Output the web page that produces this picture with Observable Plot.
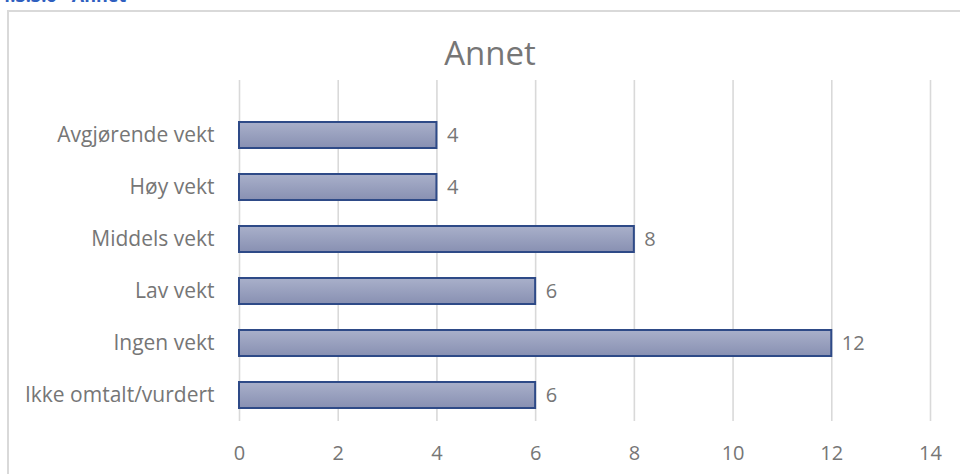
<!DOCTYPE html>
<html><head><meta charset="utf-8">
<script src="https://cdn.jsdelivr.net/npm/d3@7"></script>
<script src="https://cdn.jsdelivr.net/npm/@observablehq/plot@0.6"></script>
<style>
html,body{margin:0;padding:0;width:960px;height:474px;overflow:hidden;background:#fff;font-family:"Open Sans",sans-serif;}
#heading{position:absolute;left:0;top:-17px;font:bold 18px "Open Sans",sans-serif;color:#2f5fbf;white-space:nowrap;}
#box{position:absolute;left:7px;top:10px;width:1000px;height:600px;border:2px solid #d9d9d9;box-sizing:border-box;}
#title{position:absolute;left:0;width:980px;top:31px;text-align:center;font:33px/44px "Open Sans",sans-serif;color:#767676;}
#chart{position:absolute;left:0;top:0;}
</style></head>
<body>
<div id="heading">4.3.3.6 - Annet</div>
<div id="box"></div>
<div id="title">Annet</div>
<div id="chart"></div>
<script>
const categories = ["Avgjørende vekt","Høy vekt","Middels vekt","Lav vekt","Ingen vekt","Ikke omtalt/vurdert"];
const values = [4,4,8,6,12,6];
const xTicks = [0,2,4,6,8,10,12,14];

const data = categories.map((c,i)=>({category:c, value:values[i]}));

const chart = Plot.plot({
  width:960, height:474,
  marginLeft:239, marginRight:30, marginTop:80, marginBottom:53,
  style:{fontFamily:"'Open Sans', sans-serif", fontSize:"21px", color:"#767676", background:"transparent"},
  x:{domain:[0,14]},
  y:{domain:categories, range:[108,421], padding:0.5, paddingOuter:0.25, align:0.5},
  marks:[
    Plot.ruleX(xTicks, {stroke:"#d9d9d9", strokeWidth:1.6, strokeOpacity:1}),
    Plot.barX(data, {y:"category", x:"value", fill:"url(#barGrad)", stroke:"#2e4a87", strokeWidth:2}),
    Plot.text(data, {y:"category", x:"value", text:d=>String(d.value), textAnchor:"start", dx:10, fill:"#767676", fontSize:20}),
    Plot.axisX({ticks:xTicks, tickSize:0, tickPadding:24, fontSize:20, fill:"#767676", label:null}),
    Plot.axisY({tickSize:0, tickPadding:25, fontSize:21, fill:"#767676", label:null})
  ]
});
const svg = d3.select(chart);
const defs = svg.insert("defs",":first-child");
const g = defs.append("linearGradient").attr("id","barGrad").attr("x1",0).attr("y1",0).attr("x2",0).attr("y2",1);
g.append("stop").attr("offset","0%").attr("stop-color","#a9b0ca");
g.append("stop").attr("offset","100%").attr("stop-color","#8890b2");
document.getElementById("chart").appendChild(chart);
</script>
</body></html>
